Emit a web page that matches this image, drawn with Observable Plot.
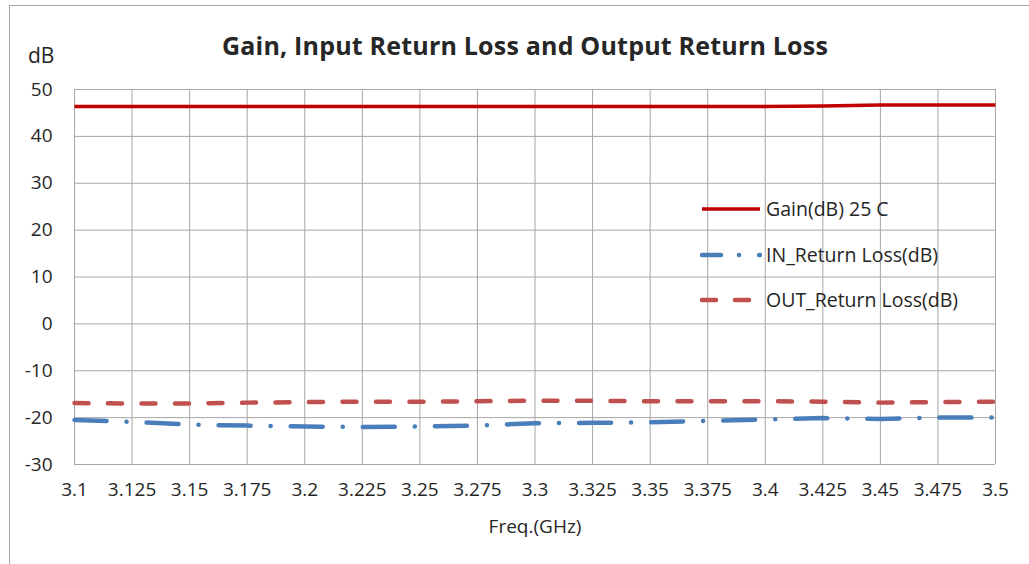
<!DOCTYPE html>
<html>
<head>
<meta charset="utf-8">
<script src="https://cdn.jsdelivr.net/npm/d3@7"></script>
<script src="https://cdn.jsdelivr.net/npm/@observablehq/plot@0.6"></script>
<style>
  html, body { margin: 0; padding: 0; background: #fff; }
  body { width: 1029px; height: 564px; overflow: hidden; position: relative; font-family: "Open Sans", sans-serif; color: #222; }
  #frame { position: absolute; left: 9px; top: 5px; width: 1100px; height: 700px; border: 1px solid #a6a6a6; box-sizing: border-box; }
  #header { position: relative; height: 75px; }
  #title { position: absolute; left: 0; width: 1050px; text-align: center; top: 28px; font-size: 25px; font-weight: bold; color: #262626; letter-spacing: 0.2px; }
  #unit { position: absolute; left: 28px; top: 41px; font-size: 21px; color: #262626; }
  #chart { position: relative; }
  #legend { position: absolute; left: 700px; top: 195px; font-size: 19.5px; color: #262626; }
  .row { height: 45.5px; display: flex; align-items: flex-start; }
  .row svg { margin-right: 4px; margin-top: 4px; }
</style>
</head>
<body>
<div id="frame"></div>
<div id="header">
  <div id="unit">dB</div>
  <div id="title">Gain, Input Return Loss and Output Return Loss</div>
</div>
<div id="chart"></div>
<div id="legend"></div>
<script>
const freq = [3.1, 3.125, 3.15, 3.175, 3.2, 3.225, 3.25, 3.275, 3.3, 3.325, 3.35, 3.375, 3.4, 3.425, 3.45, 3.475, 3.5];
const gain = [46.4, 46.4, 46.4, 46.4, 46.4, 46.4, 46.4, 46.4, 46.4, 46.4, 46.4, 46.4, 46.4, 46.5, 46.7, 46.7, 46.7];
const inRL = [-20.5, -20.9, -21.5, -21.7, -21.9, -22.0, -21.9, -21.7, -21.2, -21.1, -21.0, -20.7, -20.4, -20.1, -20.3, -20.0, -19.95];
const outRL = [-16.9, -17.0, -17.0, -16.8, -16.7, -16.6, -16.6, -16.5, -16.4, -16.4, -16.5, -16.5, -16.5, -16.6, -16.8, -16.7, -16.6];
const seriesNames = ["Gain(dB) 25 C", "IN_Return Loss(dB)", "OUT_Return Loss(dB)"];
const xTicks = [3.1, 3.125, 3.15, 3.175, 3.2, 3.225, 3.25, 3.275, 3.3, 3.325, 3.35, 3.375, 3.4, 3.425, 3.45, 3.475, 3.5];
const yTicks = [-30, -20, -10, 0, 10, 20, 30, 40, 50];

const styles = [
  {stroke: "#c00000", strokeWidth: 3.5, dash: null, cap: "butt"},
  {stroke: "#4a7ebb", strokeWidth: 4.5, dash: "32,20,0.1,20", cap: "round"},
  {stroke: "#c0504d", strokeWidth: 4.5, dash: "14,19.5", cap: "round"}
];
const values = [gain, inRL, outRL];
const data = values.map(v => freq.map((f, i) => ({f, v: v[i]})));

const chart = Plot.plot({
  width: 1029,
  height: 489,
  marginTop: 14,
  marginLeft: 74,
  marginRight: 34,
  marginBottom: 100,
  style: {fontFamily: "Open Sans, sans-serif", fontSize: "19px", color: "#262626", background: "transparent"},
  x: {domain: [3.1, 3.5], ticks: xTicks, tickFormat: d => String(d), tickSize: 0, tickPadding: 18,
      label: "Freq.(GHz)", labelAnchor: "center", labelArrow: "none", labelOffset: 68},
  y: {domain: [-30, 50], ticks: yTicks, tickFormat: d => String(d), tickSize: 0, tickPadding: 22, label: null},
  marks: [
    Plot.ruleX(xTicks, {stroke: "#a6a6a6", strokeWidth: 1, strokeOpacity: 1}),
    Plot.ruleY(yTicks, {stroke: "#a6a6a6", strokeWidth: 1, strokeOpacity: 1}),
    ...data.map((d, i) => Plot.line(d, {
      x: "f", y: "v", stroke: styles[i].stroke, strokeWidth: styles[i].strokeWidth,
      strokeDasharray: styles[i].dash, strokeLinecap: styles[i].cap
    }))
  ]
});
document.getElementById("chart").appendChild(chart);

const legend = document.getElementById("legend");
seriesNames.forEach((name, i) => {
  const s = styles[i];
  const row = document.createElement("div");
  row.className = "row";
  const dash = i === 1 ? "19,18,0.1,20" : (i === 2 ? "14,19" : "");
  row.innerHTML = `<svg width="62" height="20"><line x1="2" x2="60" y1="10" y2="10" stroke="${s.stroke}" stroke-width="${s.strokeWidth}" stroke-linecap="${i===0?'butt':'round'}" ${dash ? `stroke-dasharray="${dash}"` : ""}/></svg><span>${name}</span>`;
  legend.appendChild(row);
});
</script>
</body>
</html>
